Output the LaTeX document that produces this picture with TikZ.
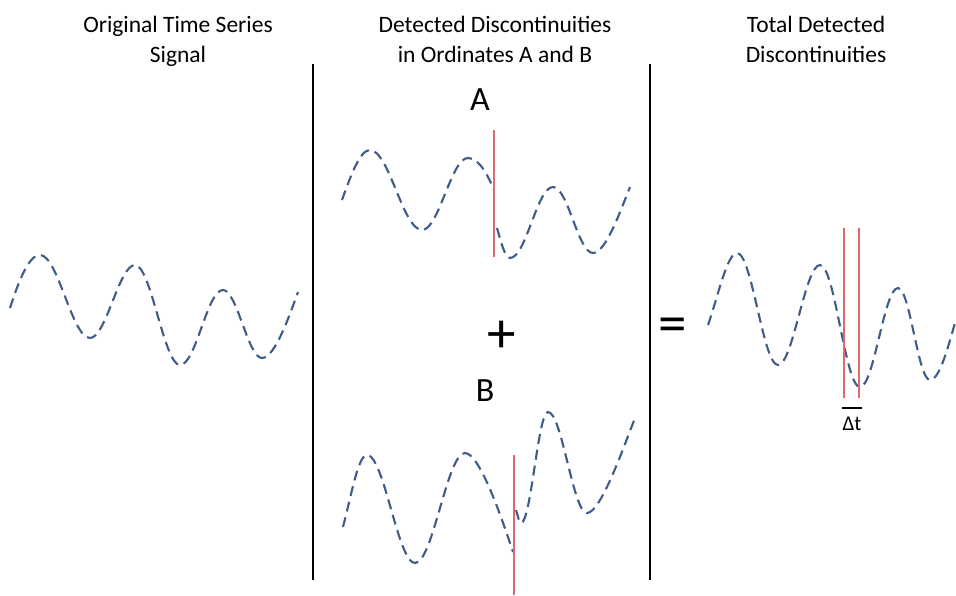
\documentclass[tikz,border=0pt]{standalone}
\usepackage{fontspec}
\setmainfont{Carlito}
\definecolor{wavecol}{RGB}{62,92,135}
\definecolor{redcol}{RGB}{222,105,110}
\begin{document}
\begin{tikzpicture}[x=1pt,y=-1pt,
  wave/.style={draw=wavecol,line width=2.1pt,dash pattern=on 10pt off 6pt},
  redline/.style={draw=redcol,line width=1.6pt},
  divider/.style={draw=black,line width=2pt},
  title/.style={align=center,inner sep=0pt,anchor=base,font=\fontsize{23.5}{30}\selectfont},
  letter/.style={inner sep=0pt,font=\fontsize{34}{40}\selectfont},
  op/.style={inner sep=0pt,font=\fontsize{57}{66}\selectfont}]
\useasboundingbox (0,0) rectangle (956,595);
\fill[white] (0,0) rectangle (956,595);
% titles
\node[title] (t1) at (178,62) {Original Time Series\\Signal};
\node[title] (t2) at (495,62) {Detected Discontinuities\\in Ordinates A and B};
\node[title] (t3) at (816,62) {Total Detected\\Discontinuities};
% dividers
\coordinate (d1a) at (313,64); \coordinate (d1b) at (313,580);
\coordinate (d2a) at (650,64); \coordinate (d2b) at (650,580);
\draw[divider] (d1a) -- (d1b);
\draw[divider] (d2a) -- (d2b);
% labels
\node[letter] (la) at (480,100) {A};
\node[letter] (lb) at (485,391) {B};
\node[op] (plus) at (502,337) {+};
\node[op] (eq) at (673,330) {=};
% left wave
\draw[wave] (10,308) .. controls +(9,-28) and +(-11,0) .. (40,255)
  .. controls +(18,0) and +(-18,0) .. (90,338)
  .. controls +(16,0) and +(-16,0) .. (135,265)
  .. controls +(16,0) and +(-16,0) .. (180,365)
  .. controls +(16,0) and +(-16,0) .. (223,290)
  .. controls +(14,0) and +(-14,0) .. (262,358)
  .. controls +(13,0) and +(-8,22) .. (298,292);
% A wave
\draw[wave] (342,200) .. controls +(9,-25) and +(-10,0) .. (370,150)
  .. controls +(19,0) and +(-19,0) .. (422,230)
  .. controls +(17,0) and +(-17,0) .. (468,158)
  .. controls +(12,0) and +(-5,-12) .. (494,190);
\draw[wave] (497,228) .. controls +(4,14) and +(-5,0) .. (510,258)
  .. controls +(16,0) and +(-16,0) .. (553,187)
  .. controls +(15,0) and +(-15,0) .. (593,253)
  .. controls +(13,0) and +(-9,22) .. (630,187);
\coordinate (ra1) at (494,130); \coordinate (ra2) at (494,257);
\draw[redline] (ra1) -- (ra2);
% B wave
\draw[wave] (343,527) .. controls +(8,-30) and +(-9,0) .. (367,455)
  .. controls +(17,0) and +(-17,0) .. (415,563)
  .. controls +(18,0) and +(-18,0) .. (465,453)
  .. controls +(15,0) and +(-10,-30) .. (513,552);
\draw[wave] (516,510) .. controls +(2,6) and +(-2,0) .. (521,523)
  .. controls +(10,0) and +(-10,0) .. (548,412)
  .. controls +(14,0) and +(-14,0) .. (587,513)
  .. controls +(14,0) and +(-10,25) .. (635,418);
\coordinate (rb1) at (514,455); \coordinate (rb2) at (514,595);
\draw[redline] (rb1) -- (rb2);
% right wave
\draw[wave] (708,325) .. controls +(9,-25) and +(-10,0) .. (737,253)
  .. controls +(15,0) and +(-15,0) .. (778,365)
  .. controls +(15,0) and +(-15,0) .. (820,265)
  .. controls +(15,0) and +(-15,0) .. (860,387)
  .. controls +(14,0) and +(-14,0) .. (898,288)
  .. controls +(12,0) and +(-12,0) .. (930,380)
  .. controls +(10,0) and +(-6,20) .. (955,323);
\coordinate (rc1) at (844,228); \coordinate (rc2) at (844,398);
\coordinate (rd1) at (859,228); \coordinate (rd2) at (859,398);
\draw[redline] (rc1) -- (rc2);
\draw[redline] (rd1) -- (rd2);
% delta t
\coordinate (dta) at (842,408); \coordinate (dtb) at (862,408);
\draw[black,line width=1.6pt] (dta) -- (dtb);
\node[inner sep=0pt,font=\fontsize{21}{24}\selectfont] (dt) at (852,424) {Δt};
\end{tikzpicture}
\end{document}
